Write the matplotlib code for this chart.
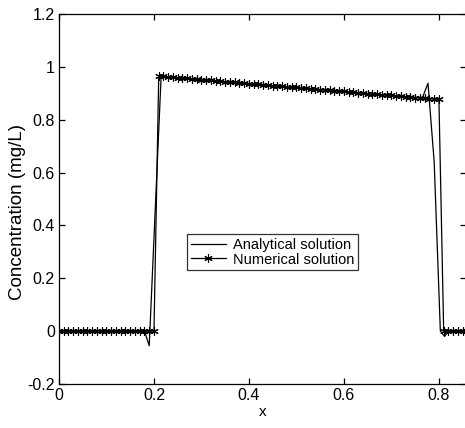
import numpy as np
import matplotlib
matplotlib.use('Agg')
import matplotlib.pyplot as plt

plt.rcParams['font.family'] = ['Liberation Sans', 'DejaVu Sans']

# numerical solution, dx = 0.01
num_x = np.round(np.arange(0, 0.861, 0.01), 3)
num_left = [0.0] * 21   # x = 0 .. 0.20
num_top = [0.965, 0.964, 0.962, 0.961, 0.959, 0.958, 0.956, 0.955, 0.953, 0.952,
           0.950, 0.949, 0.947, 0.946, 0.944, 0.943, 0.941, 0.940, 0.938, 0.937,
           0.935, 0.934, 0.932, 0.931, 0.929, 0.928, 0.926, 0.925, 0.923, 0.922,
           0.920, 0.919, 0.917, 0.916, 0.914, 0.913, 0.911, 0.910, 0.908, 0.907,
           0.905, 0.904, 0.902, 0.901, 0.899, 0.898, 0.896, 0.895, 0.893, 0.892,
           0.890, 0.889, 0.887, 0.886, 0.884, 0.883, 0.881, 0.880, 0.878, 0.877]
num_right = [0.0] * 6   # x = 0.81 .. 0.86
num_y = num_left + num_top + num_right

# analytical solution (as drawn, with the small wiggles at the fronts)
ana_x = [0.0, 0.18, 0.19, 0.215, 0.765, 0.777, 0.79, 0.803, 0.812, 0.82, 0.86]
ana_y = [0.0, 0.0, -0.055, 0.963, 0.882, 0.938, 0.64, 0.0, -0.02, 0.0, 0.0]

fig = plt.figure(figsize=(4.65, 4.28), dpi=100)
ax = fig.add_axes([59/465, 44/428, 407/465, 370/428])

ax.plot(ana_x, ana_y, color='black', linewidth=0.9, label='Analytical solution')
ax.plot(num_x, num_y, color='black', linewidth=0.9, marker=(6, 2, 0),
        markersize=6, markeredgewidth=0.8, label='Numerical solution')

ax.set_xlim(0, 0.857)
ax.set_ylim(-0.2, 1.2)
ax.set_xticks([0, 0.2, 0.4, 0.6, 0.8])
ax.set_xticklabels(['0', '0.2', '0.4', '0.6', '0.8'])
ax.set_yticks([-0.2, 0, 0.2, 0.4, 0.6, 0.8, 1, 1.2])
ax.set_yticklabels(['-0.2', '0', '0.2', '0.4', '0.6', '0.8', '1', '1.2'])
ax.tick_params(direction='in', top=True, right=True, length=4, labelsize=11.5,
               width=0.9, pad=3)
for s in ax.spines.values():
    s.set_linewidth(0.9)

ax.set_xlabel('x', fontsize=11, labelpad=1)
ax.set_ylabel('Concentration (mg/L)', fontsize=13.5)
ax.yaxis.set_label_coords(-0.08, 0.465)

leg = ax.legend(loc='upper left', bbox_to_anchor=(0.315, 0.405), fontsize=10.5,
                frameon=True, fancybox=False, edgecolor='black',
                handlelength=2.4, borderpad=0.25, labelspacing=0.05,
                handletextpad=0.5, borderaxespad=0)
leg.get_frame().set_linewidth(0.9)

fig.savefig('out.png', dpi=100)
